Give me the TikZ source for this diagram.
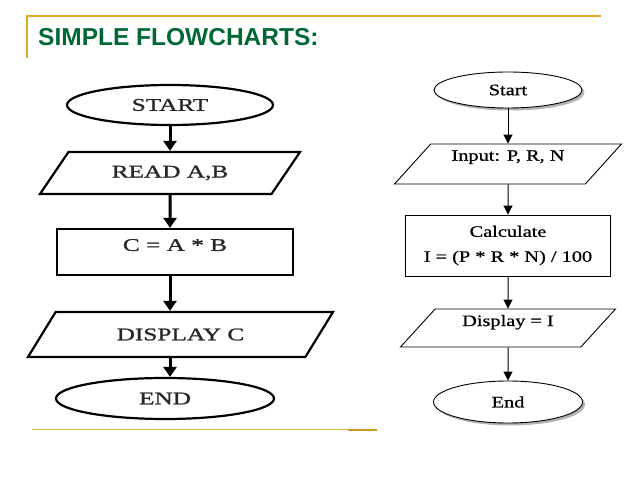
\documentclass[tikz,border=0pt]{standalone}
\usepackage{fontspec}
\setmainfont{Liberation Serif}
\newfontfamily\leftfont[FakeStretch=1.42,FakeBold=1.2]{Liberation Serif}
\newfontfamily\rightfont[FakeStretch=1.27,FakeBold=0.7]{Liberation Serif}
\newfontfamily\titlefont{Liberation Sans}
\usetikzlibrary{shapes.geometric,arrows.meta,shadows}
\definecolor{titlegreen}{RGB}{0,104,52}
\definecolor{rulegold}{RGB}{222,170,34}

\tikzset{
  bigshape/.style={draw=black, line width=2.2pt, fill=white, inner sep=2pt, text=black!85,
    font=\leftfont\fontsize{17.8}{21}\selectfont},
  bigterm/.style={bigshape, ellipse},
  bigio/.style={bigshape, trapezium, trapezium left angle=33, trapezium right angle=147,
    trapezium stretches body=true},
  bigproc/.style={bigshape, rectangle},
  bigarr/.style={line width=3pt, -{Triangle[width=13pt,length=10pt]}},
  smallshape/.style={draw=black, line width=0.9pt, fill=white, inner sep=2pt,
    font=\rightfont\fontsize{16}{19}\selectfont},
  smallterm/.style={smallshape, ellipse,
    drop shadow={shadow xshift=2.5pt, shadow yshift=-2.5pt, fill=black!55, opacity=.55}},
  smallio/.style={smallshape, trapezium, trapezium left angle=41, trapezium right angle=139,
    trapezium stretches body=true},
  smallproc/.style={smallshape, rectangle, align=center},
  smallarr/.style={line width=1pt, -{Triangle[width=9pt,length=9pt]}}
}

\begin{document}
\begin{tikzpicture}[x=1pt, y=-1pt]
\useasboundingbox (0,0) rectangle (638,478);

\draw[rulegold, line width=1.3pt] (27,58) -- (27,16) -- (601,16);
\node[anchor=base west, inner sep=0pt, text=titlegreen,
  font=\titlefont\bfseries\fontsize{24.5}{28}\selectfont] (title) at (38,46) {SIMPLE FLOWCHARTS:};
\draw[rulegold!75, line width=1pt] (32,430) -- (377,430);
\draw[rulegold!90!black, line width=1.6pt] (348,430) -- (377,430);

\node[bigterm, minimum width=206pt, minimum height=40pt] (start) at (170,105) {START};
\node[bigio, minimum width=260pt, minimum height=42pt] (read) at (170,173) {READ A,B};
\node[bigproc, minimum width=236pt, minimum height=46pt, text depth=14pt] (mult) at (175,252) {C = A * B\hspace{30pt}};
\node[bigio, trapezium left angle=30, trapezium right angle=150,
  minimum width=305pt, minimum height=45pt] (show) at (180.5,334.5) {DISPLAY C};
\node[bigterm, minimum width=218pt, minimum height=41pt] (stop) at (165,398.5) {END};

\draw[bigarr] (start) -- (read);
\draw[bigarr] (read.south) -- (read |- mult.north);
\draw[bigarr] (read |- mult.south) -- (read |- show.north);
\draw[bigarr] (read |- show.south) -- (read |- stop.north);

\node[smallterm, minimum width=148pt, minimum height=36pt] (begin) at (508,90) {Start};
\node[smallio, minimum width=227pt, minimum height=40pt, text depth=17pt] (input) at (508,164) {Input: P, R, N};
\node[smallproc, minimum width=205pt, minimum height=61pt] (calc) at (508,245.5) {Calculate\\[6pt]I = (P * R * N) / 100};
\node[smallio, minimum width=215pt, minimum height=38pt, text depth=15pt] (output) at (508,328) {Display = I};
\node[smallterm, minimum width=149pt, minimum height=42pt] (finish) at (508,402) {End};

\draw[smallarr] (begin) -- (input);
\draw[smallarr] (input) -- (calc);
\draw[smallarr] (calc) -- (output);
\draw[smallarr] (output) -- (finish);
\end{tikzpicture}
\end{document}
